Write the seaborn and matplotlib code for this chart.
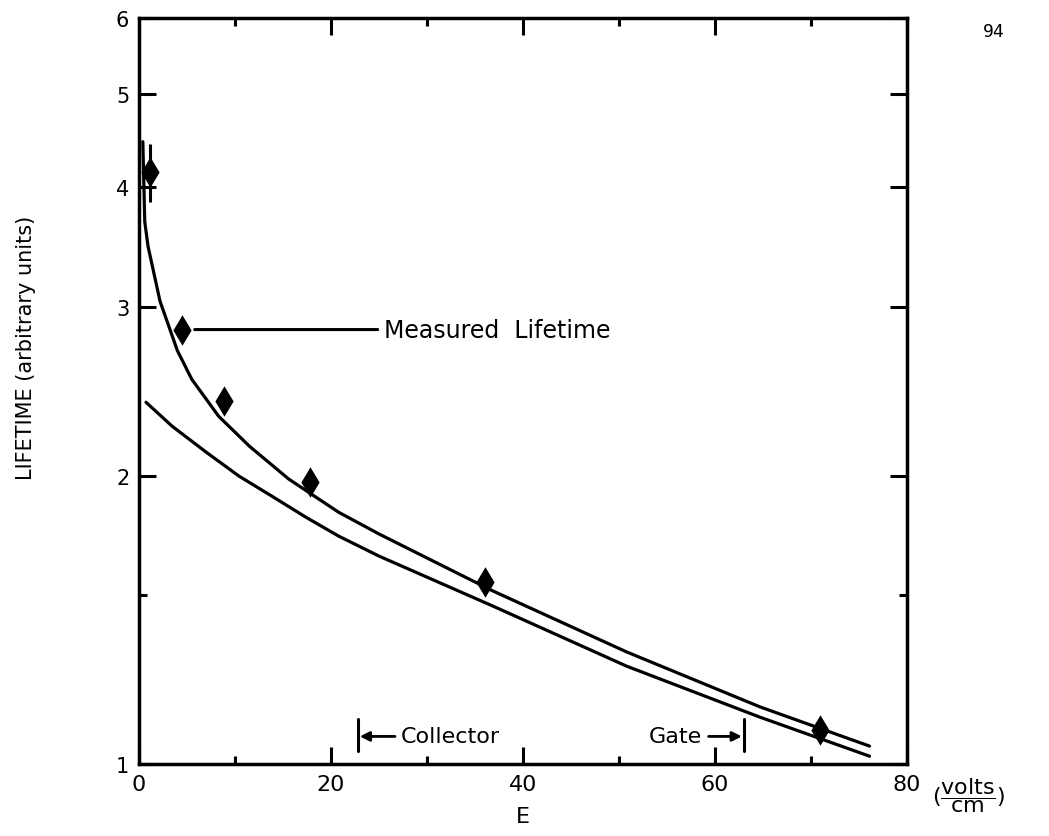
import matplotlib
matplotlib.use("Agg")
import matplotlib.pyplot as plt
from matplotlib.ticker import FixedLocator, NullFormatter
import seaborn as sns
import pandas as pd

# Measured lifetime vs. field strength E (volts/cm)
e_measured = [1.1, 4.5, 8.9, 17.8, 36.0, 70.9]
tau_measured = [4.15, 2.84, 2.39, 1.97, 1.55, 1.085]
tau_err = [0.29, 0.0, 0.0, 0.0, 0.0, 0.0]

# Upper (fitted) curve
e_fit = [0.4, 0.6, 0.94, 2.19, 4.0, 5.5, 8.3, 11.5, 15.6, 20.8, 25.0, 36.9,
         50.8, 64.7, 76.1]
tau_fit = [4.46, 3.68, 3.47, 3.04, 2.70, 2.52, 2.306, 2.146, 1.983, 1.831,
           1.738, 1.515, 1.309, 1.147, 1.044]

# Lower curve
e_low = [0.73, 3.44, 6.98, 10.42, 13.85, 17.4, 20.8, 25.0, 36.9, 50.8, 64.7,
         76.1]
tau_low = [2.385, 2.252, 2.116, 1.997, 1.903, 1.809, 1.729, 1.648, 1.461,
           1.265, 1.119, 1.019]

x_ticks = [0, 20, 40, 60, 80]
x_tick_labels = ["0", "20", "40", "60", "80"]
y_ticks = [1, 2, 3, 4, 5, 6]
y_tick_labels = ["1", "2", "3", "4", "5", "6"]

collector_edge = 22.8
gate_edge = 63.0

sns.set_theme(style="ticks")
plt.rcParams["font.family"] = ["DejaVu Sans"]
plt.rcParams.update({
    "text.color": "black",
    "axes.labelcolor": "black",
    "xtick.color": "black",
    "ytick.color": "black",
    "axes.edgecolor": "black",
})

fig = plt.figure(figsize=(10.49, 8.37), dpi=100)
ax = fig.add_axes([0.1325, 0.086, 0.7321, 0.891])

df_fit = pd.DataFrame({"E": e_fit, "tau": tau_fit})
df_low = pd.DataFrame({"E": e_low, "tau": tau_low})
df_meas = pd.DataFrame({"E": e_measured, "tau": tau_measured})

sns.lineplot(data=df_fit, x="E", y="tau", ax=ax, color="black", lw=2.3,
             estimator=None, sort=False)
sns.lineplot(data=df_low, x="E", y="tau", ax=ax, color="black", lw=2.3,
             estimator=None, sort=False)
ax.errorbar(e_measured, tau_measured, yerr=tau_err, fmt="none",
            ecolor="black", elinewidth=2.2, capsize=0)
sns.scatterplot(data=df_meas, x="E", y="tau", ax=ax, marker="d", s=240,
                color="black", linewidth=0, zorder=5)

ax.set_yscale("log")
ax.set_xlim(0, 80)
ax.set_ylim(1, 6)

ax.set_xticks(x_ticks)
ax.set_xticklabels(x_tick_labels, fontsize=16)
ax.xaxis.set_minor_locator(FixedLocator([10, 30, 50, 70]))
ax.set_yticks(y_ticks)
ax.set_yticklabels(y_tick_labels, fontsize=15)
ax.yaxis.set_minor_locator(FixedLocator([1.5]))
ax.yaxis.set_minor_formatter(NullFormatter())

ax.tick_params(which="both", direction="in", top=True, right=True,
               color="black", width=2.2)
ax.tick_params(which="major", length=12, pad=7)
ax.tick_params(which="minor", length=6)

for spine in ax.spines.values():
    spine.set_linewidth(2.5)
    spine.set_color("black")
    spine.set_visible(True)

ax.set_xlabel("E", fontsize=16, labelpad=9)
ax.set_ylabel("LIFETIME (arbitrary units)", fontsize=15)
ax.yaxis.set_label_coords(-0.134, 0.56)

# Unit next to the last x tick label
ax.annotate(r"$(\dfrac{\mathrm{volts}}{\mathrm{cm}})$",
            xy=(80, 0), xycoords=ax.get_xaxis_transform(),
            xytext=(18, -22), textcoords="offset points",
            ha="left", va="center", fontsize=16)

# Leader to the measured points
ax.annotate("Measured  Lifetime", xy=(5.8, 2.84), xytext=(25.5, 2.84),
            ha="left", va="center", fontsize=17,
            arrowprops=dict(arrowstyle="-", lw=2.2, color="black",
                            shrinkA=2, shrinkB=0))

# Collector / Gate region markers along the bottom
xt = ax.get_xaxis_transform()
ax.plot([collector_edge, collector_edge], [0.018, 0.061], color="black",
        lw=2.2, transform=xt)
ax.annotate("Collector", xy=(collector_edge + 0.2, 0.037), xycoords=xt,
            xytext=(collector_edge + 4.5, 0.037), textcoords=xt,
            ha="left", va="center", fontsize=16,
            arrowprops=dict(arrowstyle="-|>", lw=2, color="black",
                            mutation_scale=14, shrinkA=2, shrinkB=0))
ax.plot([gate_edge, gate_edge], [0.018, 0.061], color="black",
        lw=2.2, transform=xt)
ax.annotate("Gate", xy=(gate_edge - 0.2, 0.037), xycoords=xt,
            xytext=(gate_edge - 4.3, 0.037), textcoords=xt,
            ha="right", va="center", fontsize=16,
            arrowprops=dict(arrowstyle="-|>", lw=2, color="black",
                            mutation_scale=14, shrinkA=2, shrinkB=0))

fig.text(0.947, 0.962, "94", fontsize=13, ha="center", va="center",
         family="DejaVu Sans Mono")

fig.savefig("out.png", dpi=100, facecolor="white")
